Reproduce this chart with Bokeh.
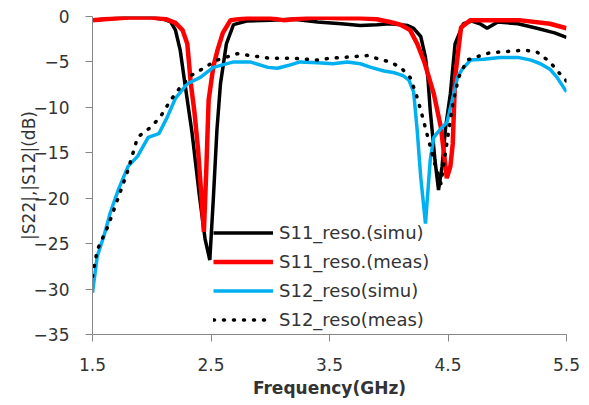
from bokeh.plotting import figure
from bokeh.models import Range1d, FixedTicker, Legend, LegendItem
from bokeh.embed import file_html
from bokeh.resources import INLINE

# ---- data ----
s11_simu_x = [1.5, 1.6, 1.8, 2.0, 2.1, 2.16, 2.2, 2.24, 2.28, 2.34, 2.40, 2.45, 2.49, 2.52, 2.55,
              2.58, 2.63, 2.69, 2.8, 3.0, 3.2, 3.4, 3.6, 3.76, 3.9, 4.01, 4.1, 4.16, 4.21, 4.27,
              4.31, 4.33, 4.35, 4.39, 4.42, 4.45, 4.48, 4.52, 4.56, 4.63, 4.7, 4.77, 4.83, 4.92,
              5.0, 5.09, 5.25, 5.4, 5.5]
s11_simu_y = [-0.4, -0.3, -0.1, -0.1, -0.3, -0.6, -1.5, -3.7, -7.4, -12.8, -19.5, -24.5, -26.8,
              -20.0, -12.5, -7.4, -3.0, -0.9, -0.5, -0.4, -0.3, -0.6, -0.8, -1.0, -0.9, -0.8,
              -0.9, -1.0, -1.3, -2.2, -4.5, -6.7, -10.3, -15.8, -19.1, -16.5, -12.2, -8.5, -3.0,
              -0.8, -0.5, -0.8, -1.3, -0.6, -0.7, -0.8, -1.3, -1.8, -2.3]

s11_meas_x = [1.5, 1.6, 1.8, 2.0, 2.12, 2.2, 2.26, 2.3, 2.33, 2.36, 2.39, 2.42, 2.44, 2.46, 2.48,
              2.52, 2.555, 2.6, 2.665, 2.8, 3.0, 3.11, 3.2, 3.4, 3.6, 3.76, 3.9, 4.01, 4.1, 4.18,
              4.24, 4.3, 4.38, 4.44, 4.47, 4.49, 4.52, 4.54, 4.56, 4.61, 4.69, 4.9, 5.1, 5.36, 5.5]
s11_meas_y = [-0.4, -0.3, -0.1, -0.1, -0.3, -0.7, -1.5, -3.0, -7.4, -10.5, -14.5, -20.0, -23.7,
              -17.0, -9.2, -5.5, -3.7, -1.8, -0.4, -0.2, -0.2, -0.4, -0.3, -0.1, -0.2, -0.2, -0.3,
              -0.6, -0.9, -1.5, -3.0, -5.0, -8.5, -12.2, -15.5, -17.8, -16.5, -14.0, -6.7, -1.2,
              -0.4, -0.4, -0.4, -0.8, -1.3]

s12_simu_x = [1.5, 1.54, 1.6, 1.65, 1.72, 1.80, 1.88, 1.97, 2.06, 2.13, 2.2, 2.3, 2.41, 2.52,
              2.69, 2.83, 2.98, 3.06, 3.15, 3.25, 3.4, 3.53, 3.65, 3.76, 3.85, 3.96, 4.05, 4.12,
              4.17, 4.21, 4.24, 4.27, 4.31, 4.35, 4.38, 4.41, 4.45, 4.49, 4.54, 4.58, 4.62, 4.69,
              4.8, 4.94, 5.09, 5.2, 5.28, 5.36, 5.42, 5.5]
s12_simu_y = [-30.4, -26.4, -24.0, -21.6, -19.0, -16.5, -15.4, -13.3, -12.9, -11.1, -9.0, -7.4,
              -6.7, -5.6, -5.0, -5.0, -5.6, -5.7, -5.4, -5.0, -5.1, -5.2, -5.0, -5.2, -5.6, -6.0,
              -6.2, -6.5, -7.0, -8.3, -12.5, -17.7, -22.8, -15.8, -13.3, -12.8, -12.2, -11.7,
              -9.0, -6.7, -5.8, -4.8, -4.7, -4.5, -4.5, -4.8, -5.2, -5.8, -6.7, -8.3]

s12_meas_x = [1.5, 1.54, 1.63, 1.71, 1.80, 1.88, 1.99, 2.07, 2.16, 2.24, 2.32, 2.41, 2.55, 2.72,
              2.89, 3.0, 3.11, 3.2, 3.3, 3.4, 3.5, 3.62, 3.72, 3.82, 3.92, 4.01, 4.1, 4.18, 4.23,
              4.27, 4.33, 4.38, 4.44, 4.49, 4.54, 4.59, 4.66, 4.75, 4.85, 4.94, 5.05, 5.14, 5.25,
              5.36, 5.47, 5.5]
s12_meas_y = [-28.6, -25.7, -23.1, -20.2, -16.9, -13.3, -12.2, -11.1, -9.2, -7.8, -6.6, -5.9,
              -4.8, -4.1, -4.4, -4.6, -4.6, -4.6, -4.7, -4.8, -4.6, -4.5, -4.4, -4.3, -4.7, -5.0,
              -5.6, -6.7, -8.5, -10.3, -13.3, -15.8, -18.4, -14.0, -9.6, -6.7, -4.8, -4.4, -4.0,
              -3.9, -3.8, -3.7, -3.9, -5.0, -6.7, -7.1]

series_names = ["S11_reso.(simu)", "S11_reso.(meas)", "S12_reso(simu)", "S12_reso(meas)"]
x_ticks = [1.5, 2.5, 3.5, 4.5, 5.5]
y_ticks = [0, -5, -10, -15, -20, -25, -30, -35]

FONT = "DejaVu Sans"
TXT = "#333333"
AX = "#868686"

p = figure(width=581, height=400, output_backend="svg", toolbar_location=None,
           x_range=Range1d(1.5, 5.5), y_range=Range1d(-35, 0),
           min_border_left=92, min_border_right=15, min_border_top=16, min_border_bottom=62)
p.outline_line_color = None
p.xgrid.visible = False
p.ygrid.visible = False
p.background_fill_color = "white"
p.border_fill_color = "white"

r1 = p.line(s11_simu_x, s11_simu_y, color="black", line_width=3.5)
r2 = p.line(s11_meas_x, s11_meas_y, color="#FF0000", line_width=4.5)
r3 = p.line(s12_simu_x, s12_simu_y, color="#00B0F0", line_width=3.5)
r4 = p.line(s12_meas_x, s12_meas_y, color="black", line_width=3.5,
            line_dash="1 9", line_cap="round")

for ax in (p.xaxis[0], p.yaxis[0]):
    ax.axis_line_color = AX
    ax.major_tick_line_color = AX
    ax.minor_tick_line_color = None
    ax.major_tick_in = 0
    ax.major_tick_out = 7
    ax.major_label_text_font = FONT
    ax.major_label_text_font_size = "17px"
    ax.major_label_text_color = TXT
    ax.axis_label_text_font = FONT
    ax.axis_label_text_font_size = "17px"
    ax.axis_label_text_color = TXT

p.xaxis.ticker = FixedTicker(ticks=x_ticks)
p.yaxis.ticker = FixedTicker(ticks=y_ticks)
p.xaxis.major_label_standoff = 16
p.yaxis.major_label_standoff = 16
p.xaxis.axis_label = "Frequency(GHz)"
p.xaxis.axis_label_text_font_style = "bold"
p.xaxis.axis_label_standoff = 4
p.yaxis.axis_label = "|S22|,|S12|(dB)"
p.yaxis.axis_label_text_font_style = "normal"
p.yaxis.axis_label_standoff = -8

legend = Legend(items=[LegendItem(label=n, renderers=[r]) for n, r in zip(series_names, [r1, r2, r3, r4])],
                location=(121, 0), padding=0, margin=0, spacing=0,
                glyph_width=60, glyph_height=29, label_height=29, label_standoff=6,
                label_text_font=FONT, label_text_font_size="18px", label_text_color=TXT,
                border_line_color=None, background_fill_alpha=0)
p.add_layout(legend)

open("out.html", "w").write(file_html(p, INLINE))
